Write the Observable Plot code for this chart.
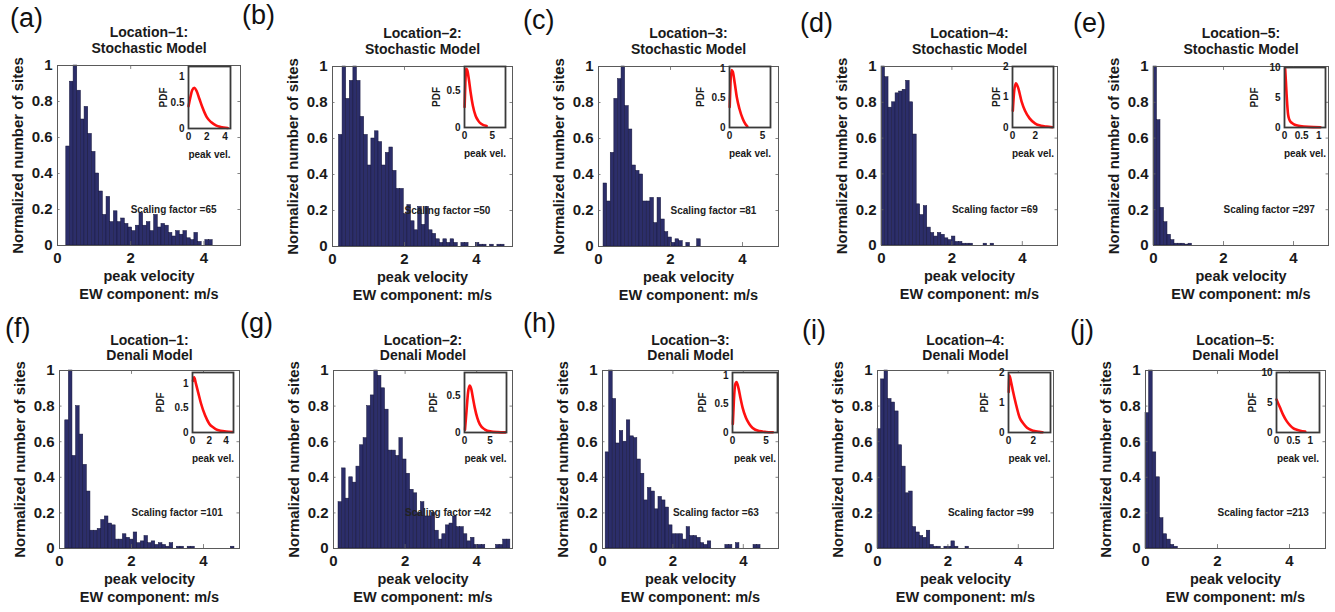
<!DOCTYPE html>
<html><head><meta charset="utf-8">
<script src="https://cdn.jsdelivr.net/npm/d3@7"></script>
<script src="https://cdn.jsdelivr.net/npm/@observablehq/plot@0.6"></script>
<style>
body{margin:0;background:#fff;}
#fig{position:relative;width:1335px;height:612px;overflow:hidden;background:#fff;font-family:"Liberation Sans",Arial,Helvetica,sans-serif;}
.lbl{position:absolute;font-size:27px;line-height:1;color:#111;white-space:nowrap;}
</style></head><body><div id="fig"></div>
<script>
// ---------------- data ----------------
const panelIds = ["a","b","c","d","e","f","g","h","i","j"];
const locationTitles = ["Location\u20131:","Location\u20132:","Location\u20133:","Location\u20134:","Location\u20135:",
                        "Location\u20131:","Location\u20132:","Location\u20133:","Location\u20134:","Location\u20135:"];
const modelTitles = ["Stochastic Model","Stochastic Model","Stochastic Model","Stochastic Model","Stochastic Model",
                     "Denali Model","Denali Model","Denali Model","Denali Model","Denali Model"];
const scalingFactors = [65,50,81,69,297,101,42,63,99,213];
const yTickValues = [0,0.2,0.4,0.6,0.8,1];
const xTickValues = [0,2,4];
const yLabel = "Normalized number of sites";
const xLabel1 = "peak velocity";
const xLabel2 = "EW component: m/s";
const insetYLabel = "PDF";
const insetXLabel = "peak vel.";

// histogram bins: first bin edge and bin width (m/s), normalized counts
const binStarts = [0.24,0.18,0.14,0,0,0.16,0.14,0.09,0,0];
const binWidths = [0.1,0.1,0.1,0.1,0.1,0.1,0.1,0.1,0.1,0.1];
const countsA = [0.55,0.91,1.0,0.86,0.70,0.77,0.62,0.52,0.40,0.30,0.17,0.27,0.13,0.19,0.13,0.15,0.12,0.10,0.08,0.11,0.18,0.11,0.13,0.08,0.17,0.10,0.12,0.11,0.07,0.05,0.08,0.06,0.08,0.04,0.03,0.07,0.02,0.00,0.03,0.03];
const countsB = [0.62,1.0,0.82,0.92,1.0,0.92,0.72,0.62,0.45,0.60,0.64,0.58,0.45,0.52,0.55,0.42,0.32,0.32,0.18,0.23,0.14,0.09,0.22,0.12,0.22,0.09,0.07,0.04,0.02,0.04,0.02,0.04,0.02,0,0.02,0.02,0,0,0.02,0.01,0.01,0,0.01,0,0.01,0.01];
const countsC = [0.35,0.25,0.52,0.82,0.93,1.0,0.78,0.65,0.45,0.42,0.40,0.25,0.25,0.27,0.13,0.27,0.15,0.08,0.05,0.02,0.04,0.03,0,0.02,0,0,0.04];
const countsD = [1.0,0.94,0.77,0.80,0.85,0.86,0.87,0.92,0.80,0.62,0.23,0.17,0.22,0.10,0.07,0.05,0.07,0.06,0.04,0.03,0.05,0.02,0.02,0.01,0.01,0.01,0,0,0,0.01,0,0.01];
const countsE = [1.0,0.70,0.21,0.13,0.06,0.03,0.01,0.01,0.01,0.005,0.01];
const countsF = [0.72,1.0,0.52,0.80,0.64,0.47,0.32,0.10,0.10,0.11,0.16,0.18,0.14,0.13,0.05,0.05,0.08,0.06,0.05,0.09,0.03,0.04,0.07,0.03,0.04,0.02,0.03,0.02,0.01,0.03,0,0.01,0.01,0,0.01,0.01,0,0,0,0,0,0,0,0,0,0,0.01];
const countsG = [0.26,0.45,0.28,0.40,0.37,0.46,0.58,0.62,0.80,0.86,1.0,0.97,0.90,0.78,0.55,0.55,0.52,0.62,0.50,0.42,0.33,0.31,0.20,0.26,0.18,0.18,0.20,0.10,0.05,0.08,0.13,0.14,0.18,0.12,0.12,0.08,0.04,0.06,0.02,0.02,0.02,0,0,0,0.02,0.02,0.05,0.05];
const countsH = [0.54,1.0,0.84,0.59,0.66,0.60,0.72,0.63,0.62,0.50,0.42,0.27,0.34,0.32,0.22,0.29,0.27,0.23,0.13,0.08,0.08,0.08,0.05,0.12,0.07,0.07,0.06,0.03,0.02,0.04,0,0,0,0,0.02,0.02,0,0.03,0,0,0,0,0.02,0.02];
const countsI = [0.67,0.95,1.0,0.84,0.82,0.77,0.58,0.46,0.31,0.32,0.12,0.09,0.07,0.06,0.10,0.02,0.01,0.01,0,0.01,0.01,0.04,0.01,0,0,0.01];
const countsJ = [0.76,1.0,0.54,0.40,0.17,0.08,0.05,0.02,0.01];

// inset PDF curves (peak vel., PDF)
const pdfXA = [0,0.2,0.4,0.65,0.9,1.2,1.5,2.0,2.5,3.0,3.5,4.3];
const pdfYA = [0.43,0.6,0.74,0.79,0.72,0.57,0.42,0.22,0.12,0.06,0.03,0.01];
const pdfXB = [0.02,0.15,0.3,0.5,0.8,1.1,1.5,2.0,2.5,3.0,4.0];
const pdfYB = [0.28,0.6,0.8,0.78,0.65,0.48,0.3,0.16,0.09,0.05,0.02];
const pdfXC = [0.03,0.15,0.3,0.5,0.8,1.1,1.5,2.0,2.4,2.7];
const pdfYC = [0.35,0.75,0.98,0.95,0.75,0.52,0.32,0.15,0.06,0.02];
const pdfXD = [0.03,0.15,0.3,0.5,0.8,1.1,1.5,2.0,2.5,3.0,3.5];
const pdfYD = [0.55,1.2,1.45,1.3,0.85,0.55,0.3,0.13,0.06,0.03,0.01];
const pdfXE = [0.02,0.04,0.06,0.08,0.1,0.12,0.16,0.22,0.3,0.45,0.7,1.05];
const pdfYE = [9.8,7.8,5.6,3.8,2.4,1.7,1.1,0.75,0.45,0.25,0.1,0.05];
const pdfXF = [0.05,0.2,0.4,0.7,1.0,1.5,2.0,2.5,3.0,4.0,4.8];
const pdfYF = [1.05,1.12,1.0,0.8,0.6,0.35,0.18,0.1,0.05,0.02,0.01];
const pdfXG = [0.1,0.4,0.7,1.0,1.3,1.7,2.0,2.5,3.0,4.0,5.0,6.5,8.0];
const pdfYG = [0.04,0.3,0.55,0.64,0.6,0.45,0.34,0.2,0.11,0.04,0.015,0.005,0.002];
const pdfXH = [0.05,0.2,0.4,0.6,0.9,1.2,1.5,2.0,2.5,3.0,4.0,5.0,6.0];
const pdfYH = [0.15,0.55,0.85,0.89,0.78,0.6,0.44,0.26,0.15,0.08,0.025,0.01,0.005];
const pdfXI = [0.02,0.08,0.2,0.35,0.6,0.9,1.2,1.5,2.0,2.5,2.75];
const pdfYI = [1.35,1.9,1.7,1.4,0.95,0.5,0.3,0.16,0.06,0.02,0.01];
const pdfXJ = [0,0.1,0.2,0.3,0.4,0.5,0.6,0.7,0.85];
const pdfYJ = [5.5,4.2,2.9,1.9,1.2,0.7,0.45,0.28,0.15];

const insetXMax = [4.6,7.4,6.2,3.6,1.2,4.9,8.2,6.7,3.4,1.27];
const insetYMax = [1.2,0.83,1.04,2,10,1.22,0.82,1.06,2,10];
const insetXTicks = [[0,2,4],[0,5],[0,5],[0,2],[0,0.5,1],[0,2,4],[0,5],[0,5],[0,2],[0,0.5,1]];
const insetYTicks = [[0,0.5,1],[0,0.5],[0,0.5,1],[0,1,2],[0,5,10],[0,0.5,1],[0,0.5],[0,0.5,1],[0,1,2],[0,5,10]];

const allCounts = [countsA,countsB,countsC,countsD,countsE,countsF,countsG,countsH,countsI,countsJ];
const allPdfX = [pdfXA,pdfXB,pdfXC,pdfXD,pdfXE,pdfXF,pdfXG,pdfXH,pdfXI,pdfXJ];
const allPdfY = [pdfYA,pdfYB,pdfYC,pdfYD,pdfYE,pdfYF,pdfYG,pdfYH,pdfYI,pdfYJ];

// ---------------- layout (page pixels) ----------------
const frames = [[57,240,65,245],[332,512,66,246],[598,778,66,246],[881,1057,66,245],[1153,1328,66,245],
                [59,239,370,548],[333,512,370,548],[602,778,370,548],[877,1053,370,548],[1145,1325,370,548]];
const insetFrames = [[188,230,66,128],[464,505,66,127],[729,770,66,127],[1012,1053,66,127],[1284,1325,67,127],
                     [192,233,372,432],[464,506,372,432],[732,777,372,432],[1008,1050,372,432],[1276,1319,372,432]];
const pdfDx = [-25,-28,-29,-16,-30,-32,-31,-30,-24,-24];
const letterPos = [[10,5],[242,2],[523,7],[800,10],[1073,10],[5,315],[240,310],[523,310],[802,317],[1070,317]];

const FONT = '"Liberation Sans", Arial, Helvetica, sans-serif';
const fig = document.getElementById("fig");
function place(node, left, top, w) {
  const d = document.createElement("div");
  d.style.cssText = `position:absolute;left:${left}px;top:${top}px;width:${w}px;`;
  d.appendChild(node);
  fig.appendChild(d);
}

panelIds.forEach((id, i) => {
  const [L, R, T, B] = frames[i];
  const row2 = i >= 5;
  const mL = 60, mR = 12, mT = 45, mB = 62;
  const W = R - L + mL + mR, H = B - T + mT + mB;
  const bw = binWidths[i];
  const bars = allCounts[i].map((c, k) => ({x1: binStarts[i] + k * bw, x2: binStarts[i] + (k + 1) * bw, y: c}));
  const main = Plot.plot({
    width: W, height: H, marginLeft: mL, marginRight: mR, marginTop: mT, marginBottom: mB,
    style: {fontFamily: FONT, fontSize: "15px", fontWeight: "bold", color: "#1a1a1a", background: "transparent", overflow: "visible", maxWidth: "none"},
    x: {domain: [0, 5], ticks: xTickValues, tickSize: 0, tickPadding: 7, tickFormat: d => String(d), label: null},
    y: {domain: [0, 1], ticks: yTickValues, tickSize: 0, tickPadding: 5, tickFormat: d => String(d), label: null},
    marks: [
      Plot.rectY(bars, {x1: "x1", x2: "x2", y: "y", fill: "#2c2e6a", stroke: "#15153a", strokeWidth: 0.5}),
      Plot.frame({stroke: "#5a5a5a", strokeWidth: 1}),
      Plot.ruleX(xTickValues.slice(1), {y1: 0, y2: 0.022, stroke: "#666", strokeWidth: 0.8}),
      Plot.ruleX(xTickValues.slice(1), {y1: 0.978, y2: 1, stroke: "#666", strokeWidth: 0.8}),
      Plot.ruleY(yTickValues.slice(1, -1), {x1: 0, x2: 0.07, stroke: "#666", strokeWidth: 0.8}),
      Plot.ruleY(yTickValues.slice(1, -1), {x1: 4.93, x2: 5, stroke: "#666", strokeWidth: 0.8}),
      Plot.text([scalingFactors[i]], {x: 2, y: 0.2, text: d => "Scaling factor =" + d, textAnchor: "start", fontSize: 10, fontWeight: "bold", fill: "#222"}),
      Plot.text([locationTitles[i]], {frameAnchor: "top", dy: row2 ? -26 : -29, textAnchor: "middle", lineAnchor: "bottom", fontSize: 14, fontWeight: "bold", fill: "#1a1a1a"}),
      Plot.text([modelTitles[i]], {frameAnchor: "top", dy: row2 ? -11 : -13, textAnchor: "middle", lineAnchor: "bottom", fontSize: 14, fontWeight: "bold", fill: "#1a1a1a"}),
      Plot.text([yLabel], {frameAnchor: "left", dx: -39, rotate: -90, textAnchor: "middle", lineAnchor: "middle", fontSize: 15, fontWeight: "bold", fill: "#1a1a1a"}),
      Plot.text([xLabel1], {frameAnchor: "bottom", dy: 35, textAnchor: "middle", lineAnchor: "bottom", fontSize: 14.5, fontWeight: "bold", fill: "#1a1a1a"}),
      Plot.text([xLabel2], {frameAnchor: "bottom", dy: 53, textAnchor: "middle", lineAnchor: "bottom", fontSize: 14.5, fontWeight: "bold", fill: "#1a1a1a"})
    ]
  });
  place(main, L - mL, T - mT, W);

  // inset
  const [iL, iR, iT, iB] = insetFrames[i];
  const imL = 40, imR = 6, imT = 4, imB = 34;
  const iW = iR - iL + imL + imR, iH = iB - iT + imT + imB;
  const pts = allPdfX[i].map((x, k) => ({x, y: allPdfY[i][k]}));
  const inset = Plot.plot({
    width: iW, height: iH, marginLeft: imL, marginRight: imR, marginTop: imT, marginBottom: imB,
    style: {fontFamily: FONT, fontSize: "10px", fontWeight: "bold", color: "#1a1a1a", background: "transparent", overflow: "visible", maxWidth: "none"},
    x: {domain: [0, insetXMax[i]], ticks: insetXTicks[i], tickSize: 0, tickPadding: 4, tickFormat: d => String(d), label: null},
    y: {domain: [0, insetYMax[i]], ticks: insetYTicks[i], tickSize: 0, tickPadding: 4, tickFormat: d => String(d), label: null},
    marks: [
      Plot.frame({fill: "white", stroke: "none"}),
      Plot.line(pts, {x: "x", y: "y", stroke: "#ff1010", strokeWidth: 2.6, curve: "monotone-x"}),
      Plot.frame({stroke: "#3a3a3a", strokeWidth: 1.8}),
      Plot.text([insetYLabel], {frameAnchor: "left", dx: pdfDx[i], rotate: -90, textAnchor: "middle", lineAnchor: "middle", fontSize: 10, fontWeight: "bold", fill: "#1a1a1a"}),
      Plot.text([insetXLabel], {frameAnchor: "bottom", dy: 29, textAnchor: "middle", lineAnchor: "bottom", fontSize: 10, fontWeight: "bold", fill: "#1a1a1a"})
    ]
  });
  place(inset, iL - imL, iT - imT, iW);

  // panel letter
  const lab = document.createElement("div");
  lab.className = "lbl";
  lab.textContent = "(" + id + ")";
  lab.style.left = letterPos[i][0] + "px";
  lab.style.top = letterPos[i][1] + "px";
  fig.appendChild(lab);
});
</script></body></html>
